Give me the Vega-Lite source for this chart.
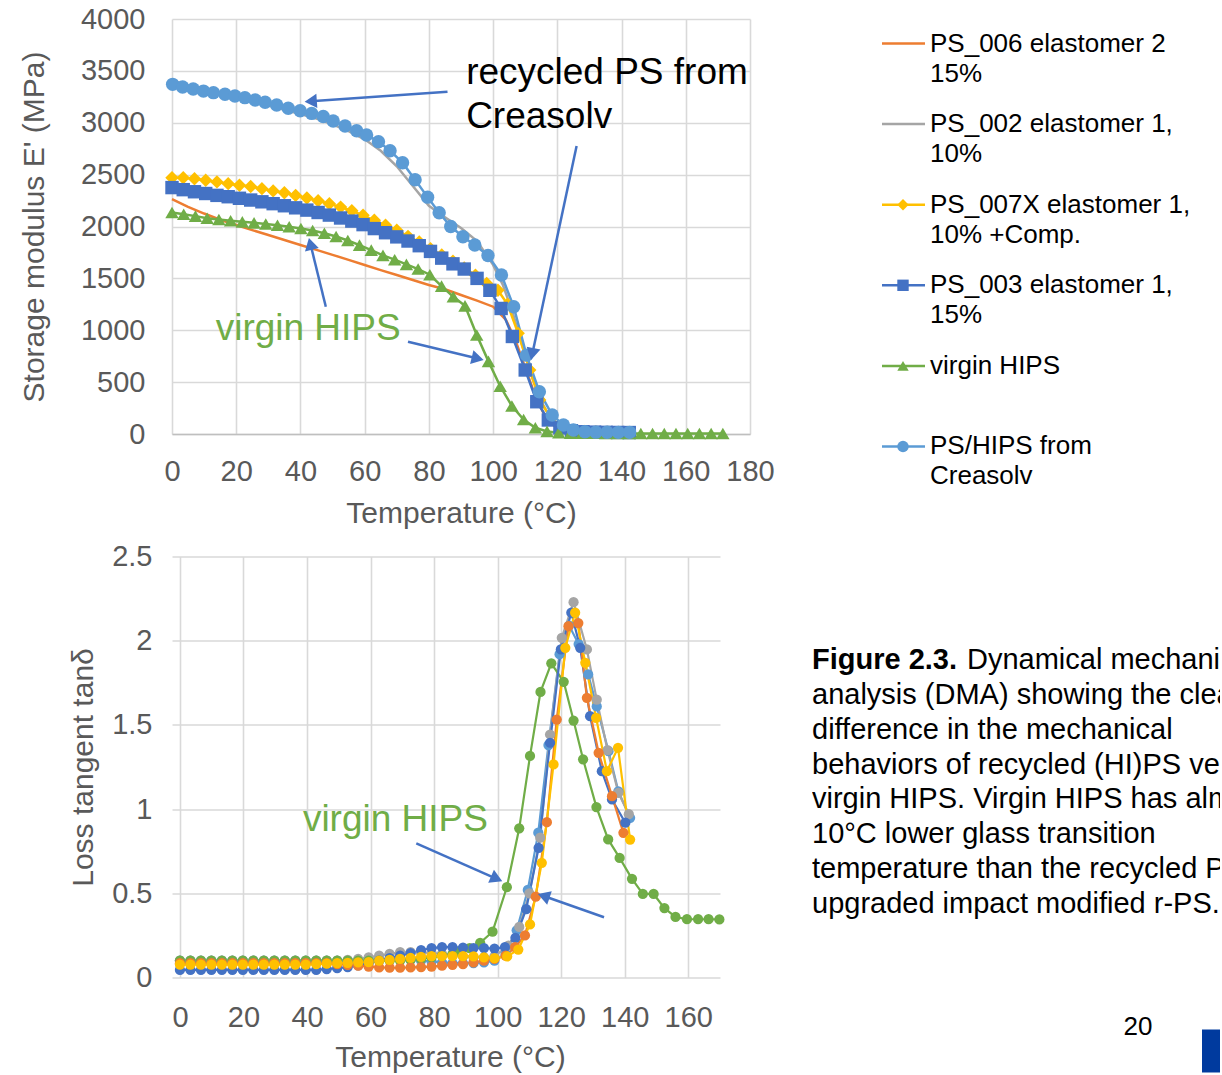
{
"$schema":"https://vega.github.io/schema/vega-lite/v6.json",
"background":"white",
"padding":{"left":19,"top":5,"right":0,"bottom":0},
"config":{
 "font":"Liberation Sans",
 "view":{"stroke":null},
 "axis":{"labelFont":"Liberation Sans","titleFont":"Liberation Sans","labelColor":"#595959","titleColor":"#595959","labelFontSize":29,"titleFontSize":30,"titleFontWeight":"normal","gridColor":"#D9D9D9","gridWidth":1.6,"ticks":false,"domain":false,"labelOverlap":false,"labelFlush":false}
},
"datasets":{
 "modulus":[
  {"series":"PS_006","T":0,"E":2265},{"series":"PS_006","T":5,"E":2190},{"series":"PS_006","T":10,"E":2125},{"series":"PS_006","T":15,"E":2065},{"series":"PS_006","T":20,"E":2014},{"series":"PS_006","T":25,"E":1965},{"series":"PS_006","T":30,"E":1918},{"series":"PS_006","T":35,"E":1870},{"series":"PS_006","T":40,"E":1822},{"series":"PS_006","T":45,"E":1775},{"series":"PS_006","T":50,"E":1727},{"series":"PS_006","T":55,"E":1678},{"series":"PS_006","T":60,"E":1629},{"series":"PS_006","T":65,"E":1580},{"series":"PS_006","T":70,"E":1532},{"series":"PS_006","T":75,"E":1484},{"series":"PS_006","T":80,"E":1436},{"series":"PS_006","T":85,"E":1395},{"series":"PS_006","T":90,"E":1340},{"series":"PS_006","T":95,"E":1285},{"series":"PS_006","T":100,"E":1227},{"series":"PS_006","T":104,"E":1100},{"series":"PS_006","T":107,"E":900},{"series":"PS_006","T":110,"E":640},{"series":"PS_006","T":113,"E":380},{"series":"PS_006","T":116,"E":180},{"series":"PS_006","T":119,"E":80},{"series":"PS_006","T":122,"E":40},{"series":"PS_006","T":126,"E":25},{"series":"PS_006","T":130,"E":20},{"series":"PS_006","T":135,"E":18},{"series":"PS_006","T":140,"E":16},
  {"series":"PS_002","T":0,"E":3410},{"series":"PS_002","T":5,"E":3360},{"series":"PS_002","T":10,"E":3312},{"series":"PS_002","T":15,"E":3272},{"series":"PS_002","T":20,"E":3235},{"series":"PS_002","T":25,"E":3200},{"series":"PS_002","T":30,"E":3165},{"series":"PS_002","T":35,"E":3125},{"series":"PS_002","T":40,"E":3085},{"series":"PS_002","T":45,"E":3040},{"series":"PS_002","T":50,"E":2985},{"series":"PS_002","T":55,"E":2920},{"series":"PS_002","T":60,"E":2840},{"series":"PS_002","T":65,"E":2730},{"series":"PS_002","T":70,"E":2580},{"series":"PS_002","T":75,"E":2390},{"series":"PS_002","T":80,"E":2200},{"series":"PS_002","T":85,"E":2090},{"series":"PS_002","T":90,"E":1985},{"series":"PS_002","T":95,"E":1860},{"series":"PS_002","T":100,"E":1630},{"series":"PS_002","T":103,"E":1440},{"series":"PS_002","T":106,"E":1180},{"series":"PS_002","T":109,"E":860},{"series":"PS_002","T":112,"E":560},{"series":"PS_002","T":115,"E":310},{"series":"PS_002","T":118,"E":150},{"series":"PS_002","T":121,"E":70},{"series":"PS_002","T":125,"E":35},{"series":"PS_002","T":130,"E":22},{"series":"PS_002","T":135,"E":18},{"series":"PS_002","T":140,"E":16},
  {"series":"PS_007X","T":0,"E":2470},{"series":"PS_007X","T":3.5,"E":2470},{"series":"PS_007X","T":7,"E":2460},{"series":"PS_007X","T":10.5,"E":2445},{"series":"PS_007X","T":14,"E":2430},{"series":"PS_007X","T":17.5,"E":2413},{"series":"PS_007X","T":21,"E":2398},{"series":"PS_007X","T":24.5,"E":2385},{"series":"PS_007X","T":28,"E":2365},{"series":"PS_007X","T":31.5,"E":2343},{"series":"PS_007X","T":35,"E":2325},{"series":"PS_007X","T":38.5,"E":2300},{"series":"PS_007X","T":42,"E":2275},{"series":"PS_007X","T":45.5,"E":2248},{"series":"PS_007X","T":49,"E":2220},{"series":"PS_007X","T":52.5,"E":2187},{"series":"PS_007X","T":56,"E":2152},{"series":"PS_007X","T":59.5,"E":2108},{"series":"PS_007X","T":63,"E":2060},{"series":"PS_007X","T":66.5,"E":2012},{"series":"PS_007X","T":70,"E":1965},{"series":"PS_007X","T":73.5,"E":1905},{"series":"PS_007X","T":77,"E":1850},{"series":"PS_007X","T":80.5,"E":1785},{"series":"PS_007X","T":84,"E":1725},{"series":"PS_007X","T":87.5,"E":1665},{"series":"PS_007X","T":91,"E":1600},{"series":"PS_007X","T":94.5,"E":1530},{"series":"PS_007X","T":98,"E":1450},{"series":"PS_007X","T":101.5,"E":1385},{"series":"PS_007X","T":104.5,"E":1250},{"series":"PS_007X","T":107.8,"E":970},{"series":"PS_007X","T":111.4,"E":617},{"series":"PS_007X","T":114.5,"E":328},{"series":"PS_007X","T":118,"E":150},{"series":"PS_007X","T":121.5,"E":70},{"series":"PS_007X","T":125,"E":35},{"series":"PS_007X","T":128.5,"E":24},{"series":"PS_007X","T":132,"E":19},{"series":"PS_007X","T":135.5,"E":17},{"series":"PS_007X","T":139,"E":16},{"series":"PS_007X","T":142,"E":15},
  {"series":"PS_003","T":0,"E":2375},{"series":"PS_003","T":3.5,"E":2355},{"series":"PS_003","T":7,"E":2335},{"series":"PS_003","T":10.5,"E":2318},{"series":"PS_003","T":14,"E":2300},{"series":"PS_003","T":17.5,"E":2287},{"series":"PS_003","T":21,"E":2272},{"series":"PS_003","T":24.5,"E":2255},{"series":"PS_003","T":28,"E":2238},{"series":"PS_003","T":31.5,"E":2220},{"series":"PS_003","T":35,"E":2200},{"series":"PS_003","T":38.5,"E":2180},{"series":"PS_003","T":42,"E":2158},{"series":"PS_003","T":45.5,"E":2135},{"series":"PS_003","T":49,"E":2110},{"series":"PS_003","T":52.5,"E":2082},{"series":"PS_003","T":56,"E":2052},{"series":"PS_003","T":59.5,"E":2018},{"series":"PS_003","T":63,"E":1980},{"series":"PS_003","T":66.5,"E":1940},{"series":"PS_003","T":70,"E":1900},{"series":"PS_003","T":73.5,"E":1860},{"series":"PS_003","T":77,"E":1815},{"series":"PS_003","T":80.5,"E":1760},{"series":"PS_003","T":84,"E":1695},{"series":"PS_003","T":87.5,"E":1640},{"series":"PS_003","T":91,"E":1590},{"series":"PS_003","T":95,"E":1500},{"series":"PS_003","T":99,"E":1385},{"series":"PS_003","T":102.5,"E":1210},{"series":"PS_003","T":106,"E":940},{"series":"PS_003","T":110,"E":617},{"series":"PS_003","T":113.6,"E":311},{"series":"PS_003","T":117.2,"E":135},{"series":"PS_003","T":120.8,"E":60},{"series":"PS_003","T":124.4,"E":32},{"series":"PS_003","T":128,"E":22},{"series":"PS_003","T":131.6,"E":18},{"series":"PS_003","T":135.2,"E":16},{"series":"PS_003","T":138.8,"E":15},{"series":"PS_003","T":142.4,"E":14},
  {"series":"virgin HIPS","T":0,"E":2135},{"series":"virgin HIPS","T":3.65,"E":2118},{"series":"virgin HIPS","T":7.3,"E":2100},{"series":"virgin HIPS","T":10.95,"E":2080},{"series":"virgin HIPS","T":14.6,"E":2067},{"series":"virgin HIPS","T":18.25,"E":2056},{"series":"virgin HIPS","T":21.9,"E":2045},{"series":"virgin HIPS","T":25.55,"E":2035},{"series":"virgin HIPS","T":29.2,"E":2024},{"series":"virgin HIPS","T":32.85,"E":2012},{"series":"virgin HIPS","T":36.5,"E":1997},{"series":"virgin HIPS","T":40.15,"E":1981},{"series":"virgin HIPS","T":43.8,"E":1962},{"series":"virgin HIPS","T":47.45,"E":1935},{"series":"virgin HIPS","T":51.1,"E":1903},{"series":"virgin HIPS","T":54.75,"E":1865},{"series":"virgin HIPS","T":58.4,"E":1820},{"series":"virgin HIPS","T":62.05,"E":1772},{"series":"virgin HIPS","T":65.7,"E":1722},{"series":"virgin HIPS","T":69.35,"E":1680},{"series":"virgin HIPS","T":73,"E":1635},{"series":"virgin HIPS","T":76.65,"E":1590},{"series":"virgin HIPS","T":80.3,"E":1535},{"series":"virgin HIPS","T":83.95,"E":1425},{"series":"virgin HIPS","T":87.6,"E":1323},{"series":"virgin HIPS","T":91.25,"E":1235},{"series":"virgin HIPS","T":94.9,"E":954},{"series":"virgin HIPS","T":98.55,"E":700},{"series":"virgin HIPS","T":102.2,"E":460},{"series":"virgin HIPS","T":105.85,"E":270},{"series":"virgin HIPS","T":109.5,"E":140},{"series":"virgin HIPS","T":113.15,"E":60},{"series":"virgin HIPS","T":116.8,"E":25},{"series":"virgin HIPS","T":120.45,"E":12},{"series":"virgin HIPS","T":124.1,"E":9},{"series":"virgin HIPS","T":127.75,"E":8},{"series":"virgin HIPS","T":131.4,"E":7},{"series":"virgin HIPS","T":135.05,"E":6},{"series":"virgin HIPS","T":138.7,"E":6},{"series":"virgin HIPS","T":142.35,"E":5},{"series":"virgin HIPS","T":146,"E":5},{"series":"virgin HIPS","T":149.65,"E":5},{"series":"virgin HIPS","T":153.3,"E":5},{"series":"virgin HIPS","T":156.95,"E":5},{"series":"virgin HIPS","T":160.6,"E":5},{"series":"virgin HIPS","T":164.25,"E":5},{"series":"virgin HIPS","T":167.9,"E":5},{"series":"virgin HIPS","T":171.55,"E":5},
  {"series":"Creasolv","T":0.2,"E":3370},{"series":"Creasolv","T":3.3,"E":3345},{"series":"Creasolv","T":6.6,"E":3325},{"series":"Creasolv","T":9.8,"E":3305},{"series":"Creasolv","T":12.9,"E":3290},{"series":"Creasolv","T":16.5,"E":3274},{"series":"Creasolv","T":19.6,"E":3258},{"series":"Creasolv","T":22.7,"E":3242},{"series":"Creasolv","T":25.9,"E":3220},{"series":"Creasolv","T":29,"E":3197},{"series":"Creasolv","T":32.6,"E":3171},{"series":"Creasolv","T":36.2,"E":3139},{"series":"Creasolv","T":39.9,"E":3116},{"series":"Creasolv","T":43.5,"E":3090},{"series":"Creasolv","T":47.1,"E":3060},{"series":"Creasolv","T":50.2,"E":3017},{"series":"Creasolv","T":53.9,"E":2969},{"series":"Creasolv","T":57.5,"E":2923},{"series":"Creasolv","T":60.6,"E":2882},{"series":"Creasolv","T":64.3,"E":2818},{"series":"Creasolv","T":67.9,"E":2730},{"series":"Creasolv","T":71.8,"E":2615},{"series":"Creasolv","T":75.7,"E":2450},{"series":"Creasolv","T":79.6,"E":2283},{"series":"Creasolv","T":83.2,"E":2133},{"series":"Creasolv","T":86.8,"E":2000},{"series":"Creasolv","T":90.6,"E":1902},{"series":"Creasolv","T":94.3,"E":1822},{"series":"Creasolv","T":98.4,"E":1720},{"series":"Creasolv","T":102.6,"E":1533},{"series":"Creasolv","T":106.4,"E":1227},{"series":"Creasolv","T":110.4,"E":760},{"series":"Creasolv","T":114.4,"E":408},{"series":"Creasolv","T":118.4,"E":183},{"series":"Creasolv","T":121.9,"E":87},{"series":"Creasolv","T":125,"E":39},{"series":"Creasolv","T":128.6,"E":22},{"series":"Creasolv","T":132,"E":18},{"series":"Creasolv","T":135.5,"E":17},{"series":"Creasolv","T":139,"E":16},{"series":"Creasolv","T":142.5,"E":16}
 ],
 "tan":[
  {"series":"Creasolv","T":0,"tan":0.1},{"series":"Creasolv","T":3.3,"tan":0.1},{"series":"Creasolv","T":6.6,"tan":0.1},{"series":"Creasolv","T":9.9,"tan":0.1},{"series":"Creasolv","T":13.2,"tan":0.1},{"series":"Creasolv","T":16.5,"tan":0.1},{"series":"Creasolv","T":19.8,"tan":0.1},{"series":"Creasolv","T":23.1,"tan":0.1},{"series":"Creasolv","T":26.4,"tan":0.1},{"series":"Creasolv","T":29.7,"tan":0.1},{"series":"Creasolv","T":33,"tan":0.1},{"series":"Creasolv","T":36.3,"tan":0.1},{"series":"Creasolv","T":39.6,"tan":0.1},{"series":"Creasolv","T":42.9,"tan":0.1},{"series":"Creasolv","T":46.2,"tan":0.1},{"series":"Creasolv","T":49.5,"tan":0.1},{"series":"Creasolv","T":52.8,"tan":0.1},{"series":"Creasolv","T":56.1,"tan":0.1},{"series":"Creasolv","T":59.4,"tan":0.105},{"series":"Creasolv","T":62.7,"tan":0.11},{"series":"Creasolv","T":66,"tan":0.11},{"series":"Creasolv","T":69.3,"tan":0.11},{"series":"Creasolv","T":72.6,"tan":0.105},{"series":"Creasolv","T":75.9,"tan":0.1},{"series":"Creasolv","T":79.2,"tan":0.095},{"series":"Creasolv","T":82.5,"tan":0.09},{"series":"Creasolv","T":85.8,"tan":0.085},{"series":"Creasolv","T":89.1,"tan":0.085},{"series":"Creasolv","T":92.4,"tan":0.085},{"series":"Creasolv","T":95.7,"tan":0.09},{"series":"Creasolv","T":99,"tan":0.1},{"series":"Creasolv","T":102.5,"tan":0.14},{"series":"Creasolv","T":106,"tan":0.28},{"series":"Creasolv","T":109.5,"tan":0.52},{"series":"Creasolv","T":112.8,"tan":0.86},{"series":"Creasolv","T":116,"tan":1.38},{"series":"Creasolv","T":119.5,"tan":1.92},{"series":"Creasolv","T":122.5,"tan":2.09},{"series":"Creasolv","T":125.5,"tan":1.98},{"series":"Creasolv","T":128.5,"tan":1.8},{"series":"Creasolv","T":131.2,"tan":1.61},{"series":"Creasolv","T":134.9,"tan":1.344},{"series":"Creasolv","T":138,"tan":1.106},{"series":"Creasolv","T":141.7,"tan":0.948},
  {"series":"PS_002","T":0,"tan":0.1},{"series":"PS_002","T":3.3,"tan":0.1},{"series":"PS_002","T":6.6,"tan":0.1},{"series":"PS_002","T":9.9,"tan":0.1},{"series":"PS_002","T":13.2,"tan":0.1},{"series":"PS_002","T":16.5,"tan":0.1},{"series":"PS_002","T":19.8,"tan":0.1},{"series":"PS_002","T":23.1,"tan":0.1},{"series":"PS_002","T":26.4,"tan":0.1},{"series":"PS_002","T":29.7,"tan":0.1},{"series":"PS_002","T":33,"tan":0.1},{"series":"PS_002","T":36.3,"tan":0.1},{"series":"PS_002","T":39.6,"tan":0.1},{"series":"PS_002","T":42.9,"tan":0.1},{"series":"PS_002","T":46.2,"tan":0.1},{"series":"PS_002","T":49.5,"tan":0.1},{"series":"PS_002","T":52.8,"tan":0.105},{"series":"PS_002","T":56.1,"tan":0.11},{"series":"PS_002","T":59.4,"tan":0.12},{"series":"PS_002","T":62.7,"tan":0.13},{"series":"PS_002","T":66,"tan":0.14},{"series":"PS_002","T":69.3,"tan":0.15},{"series":"PS_002","T":72.6,"tan":0.15},{"series":"PS_002","T":75.9,"tan":0.15},{"series":"PS_002","T":79.2,"tan":0.145},{"series":"PS_002","T":82.5,"tan":0.14},{"series":"PS_002","T":85.8,"tan":0.13},{"series":"PS_002","T":89.1,"tan":0.125},{"series":"PS_002","T":92.4,"tan":0.12},{"series":"PS_002","T":95.7,"tan":0.12},{"series":"PS_002","T":99,"tan":0.125},{"series":"PS_002","T":103.4,"tan":0.19},{"series":"PS_002","T":106.8,"tan":0.3},{"series":"PS_002","T":110,"tan":0.5},{"series":"PS_002","T":113.4,"tan":0.83},{"series":"PS_002","T":116.5,"tan":1.443},{"series":"PS_002","T":120.2,"tan":2.017},{"series":"PS_002","T":123.9,"tan":2.229},{"series":"PS_002","T":128.1,"tan":1.948},{"series":"PS_002","T":131.2,"tan":1.65},{"series":"PS_002","T":134.6,"tan":1.35},{"series":"PS_002","T":138,"tan":1.097},{"series":"PS_002","T":141.3,"tan":0.97},
  {"series":"virgin HIPS","T":0,"tan":0.1},{"series":"virgin HIPS","T":3.3,"tan":0.1},{"series":"virgin HIPS","T":6.6,"tan":0.1},{"series":"virgin HIPS","T":9.9,"tan":0.1},{"series":"virgin HIPS","T":13.2,"tan":0.1},{"series":"virgin HIPS","T":16.5,"tan":0.1},{"series":"virgin HIPS","T":19.8,"tan":0.1},{"series":"virgin HIPS","T":23.1,"tan":0.1},{"series":"virgin HIPS","T":26.4,"tan":0.1},{"series":"virgin HIPS","T":29.7,"tan":0.1},{"series":"virgin HIPS","T":33,"tan":0.1},{"series":"virgin HIPS","T":36.3,"tan":0.1},{"series":"virgin HIPS","T":39.6,"tan":0.1},{"series":"virgin HIPS","T":42.9,"tan":0.1},{"series":"virgin HIPS","T":46.2,"tan":0.1},{"series":"virgin HIPS","T":49.5,"tan":0.1},{"series":"virgin HIPS","T":52.8,"tan":0.1},{"series":"virgin HIPS","T":56.1,"tan":0.1},{"series":"virgin HIPS","T":59.4,"tan":0.1},{"series":"virgin HIPS","T":62.7,"tan":0.1},{"series":"virgin HIPS","T":66,"tan":0.1},{"series":"virgin HIPS","T":69.3,"tan":0.1},{"series":"virgin HIPS","T":72.6,"tan":0.105},{"series":"virgin HIPS","T":75.9,"tan":0.11},{"series":"virgin HIPS","T":79.2,"tan":0.12},{"series":"virgin HIPS","T":82.5,"tan":0.13},{"series":"virgin HIPS","T":85.8,"tan":0.14},{"series":"virgin HIPS","T":88.2,"tan":0.155},{"series":"virgin HIPS","T":91.2,"tan":0.175},{"series":"virgin HIPS","T":94.5,"tan":0.206},{"series":"virgin HIPS","T":98.4,"tan":0.272},{"series":"virgin HIPS","T":102.9,"tan":0.536},{"series":"virgin HIPS","T":106.8,"tan":0.886},{"series":"virgin HIPS","T":110.2,"tan":1.316},{"series":"virgin HIPS","T":113.5,"tan":1.696},{"series":"virgin HIPS","T":116.9,"tan":1.866},{"series":"virgin HIPS","T":120.8,"tan":1.756},{"series":"virgin HIPS","T":123.9,"tan":1.526},{"series":"virgin HIPS","T":126.9,"tan":1.296},{"series":"virgin HIPS","T":131.1,"tan":1.012},{"series":"virgin HIPS","T":134.8,"tan":0.82},{"series":"virgin HIPS","T":138.4,"tan":0.71},{"series":"virgin HIPS","T":142.3,"tan":0.586},{"series":"virgin HIPS","T":145.7,"tan":0.496},{"series":"virgin HIPS","T":149.1,"tan":0.496},{"series":"virgin HIPS","T":152.5,"tan":0.412},{"series":"virgin HIPS","T":156,"tan":0.36},{"series":"virgin HIPS","T":159.6,"tan":0.346},{"series":"virgin HIPS","T":163.1,"tan":0.346},{"series":"virgin HIPS","T":166.4,"tan":0.346},{"series":"virgin HIPS","T":169.8,"tan":0.345},
  {"series":"PS_003","T":0,"tan":0.045},{"series":"PS_003","T":3.3,"tan":0.045},{"series":"PS_003","T":6.6,"tan":0.045},{"series":"PS_003","T":9.9,"tan":0.045},{"series":"PS_003","T":13.2,"tan":0.045},{"series":"PS_003","T":16.5,"tan":0.045},{"series":"PS_003","T":19.8,"tan":0.045},{"series":"PS_003","T":23.1,"tan":0.045},{"series":"PS_003","T":26.4,"tan":0.045},{"series":"PS_003","T":29.7,"tan":0.045},{"series":"PS_003","T":33,"tan":0.045},{"series":"PS_003","T":36.3,"tan":0.045},{"series":"PS_003","T":39.6,"tan":0.045},{"series":"PS_003","T":42.9,"tan":0.045},{"series":"PS_003","T":46.2,"tan":0.05},{"series":"PS_003","T":49.5,"tan":0.055},{"series":"PS_003","T":52.8,"tan":0.062},{"series":"PS_003","T":56.1,"tan":0.072},{"series":"PS_003","T":59.4,"tan":0.085},{"series":"PS_003","T":62.7,"tan":0.1},{"series":"PS_003","T":66,"tan":0.115},{"series":"PS_003","T":69.3,"tan":0.13},{"series":"PS_003","T":72.6,"tan":0.145},{"series":"PS_003","T":75.9,"tan":0.162},{"series":"PS_003","T":79.2,"tan":0.175},{"series":"PS_003","T":82.5,"tan":0.18},{"series":"PS_003","T":85.8,"tan":0.18},{"series":"PS_003","T":89.1,"tan":0.178},{"series":"PS_003","T":92.4,"tan":0.175},{"series":"PS_003","T":95.7,"tan":0.175},{"series":"PS_003","T":99,"tan":0.172},{"series":"PS_003","T":102.3,"tan":0.18},{"series":"PS_003","T":105.6,"tan":0.236},{"series":"PS_003","T":109,"tan":0.406},{"series":"PS_003","T":112.9,"tan":0.77},{"series":"PS_003","T":116.5,"tan":1.394},{"series":"PS_003","T":119.9,"tan":1.948},{"series":"PS_003","T":123.2,"tan":2.166},{"series":"PS_003","T":126,"tan":1.958},{"series":"PS_003","T":129.1,"tan":1.552},{"series":"PS_003","T":132.8,"tan":1.225},{"series":"PS_003","T":136,"tan":1.057},{"series":"PS_003","T":140.2,"tan":0.919},
  {"series":"PS_006","T":0,"tan":0.085},{"series":"PS_006","T":3.3,"tan":0.085},{"series":"PS_006","T":6.6,"tan":0.085},{"series":"PS_006","T":9.9,"tan":0.085},{"series":"PS_006","T":13.2,"tan":0.085},{"series":"PS_006","T":16.5,"tan":0.085},{"series":"PS_006","T":19.8,"tan":0.085},{"series":"PS_006","T":23.1,"tan":0.085},{"series":"PS_006","T":26.4,"tan":0.085},{"series":"PS_006","T":29.7,"tan":0.085},{"series":"PS_006","T":33,"tan":0.085},{"series":"PS_006","T":36.3,"tan":0.085},{"series":"PS_006","T":39.6,"tan":0.085},{"series":"PS_006","T":42.9,"tan":0.085},{"series":"PS_006","T":46.2,"tan":0.085},{"series":"PS_006","T":49.5,"tan":0.08},{"series":"PS_006","T":52.8,"tan":0.075},{"series":"PS_006","T":56.1,"tan":0.07},{"series":"PS_006","T":59.4,"tan":0.065},{"series":"PS_006","T":62.7,"tan":0.06},{"series":"PS_006","T":66,"tan":0.058},{"series":"PS_006","T":69.3,"tan":0.058},{"series":"PS_006","T":72.6,"tan":0.06},{"series":"PS_006","T":75.9,"tan":0.062},{"series":"PS_006","T":79.2,"tan":0.065},{"series":"PS_006","T":82.5,"tan":0.07},{"series":"PS_006","T":85.8,"tan":0.075},{"series":"PS_006","T":89.1,"tan":0.08},{"series":"PS_006","T":92.4,"tan":0.09},{"series":"PS_006","T":95.7,"tan":0.1},{"series":"PS_006","T":99,"tan":0.11},{"series":"PS_006","T":102.5,"tan":0.13},{"series":"PS_006","T":105.5,"tan":0.18},{"series":"PS_006","T":108.6,"tan":0.25},{"series":"PS_006","T":112,"tan":0.48},{"series":"PS_006","T":115.5,"tan":0.922},{"series":"PS_006","T":118.6,"tan":1.532},{"series":"PS_006","T":122.3,"tan":2.086},{"series":"PS_006","T":125.4,"tan":2.105},{"series":"PS_006","T":128.1,"tan":1.661},{"series":"PS_006","T":131.8,"tan":1.334},{"series":"PS_006","T":136,"tan":1.077},{"series":"PS_006","T":139.6,"tan":0.859},
  {"series":"PS_007X","T":0,"tan":0.077},{"series":"PS_007X","T":3.3,"tan":0.077},{"series":"PS_007X","T":6.6,"tan":0.077},{"series":"PS_007X","T":9.9,"tan":0.077},{"series":"PS_007X","T":13.2,"tan":0.077},{"series":"PS_007X","T":16.5,"tan":0.077},{"series":"PS_007X","T":19.8,"tan":0.077},{"series":"PS_007X","T":23.1,"tan":0.077},{"series":"PS_007X","T":26.4,"tan":0.077},{"series":"PS_007X","T":29.7,"tan":0.077},{"series":"PS_007X","T":33,"tan":0.077},{"series":"PS_007X","T":36.3,"tan":0.077},{"series":"PS_007X","T":39.6,"tan":0.077},{"series":"PS_007X","T":42.9,"tan":0.08},{"series":"PS_007X","T":46.2,"tan":0.082},{"series":"PS_007X","T":49.5,"tan":0.085},{"series":"PS_007X","T":52.8,"tan":0.087},{"series":"PS_007X","T":56.1,"tan":0.09},{"series":"PS_007X","T":59.4,"tan":0.092},{"series":"PS_007X","T":62.7,"tan":0.1},{"series":"PS_007X","T":66,"tan":0.105},{"series":"PS_007X","T":69.3,"tan":0.11},{"series":"PS_007X","T":72.6,"tan":0.117},{"series":"PS_007X","T":75.9,"tan":0.122},{"series":"PS_007X","T":79.2,"tan":0.127},{"series":"PS_007X","T":82.5,"tan":0.127},{"series":"PS_007X","T":85.8,"tan":0.127},{"series":"PS_007X","T":89.1,"tan":0.127},{"series":"PS_007X","T":92.4,"tan":0.125},{"series":"PS_007X","T":95.7,"tan":0.12},{"series":"PS_007X","T":99,"tan":0.115},{"series":"PS_007X","T":103,"tan":0.125},{"series":"PS_007X","T":106.5,"tan":0.166},{"series":"PS_007X","T":110.2,"tan":0.315},{"series":"PS_007X","T":113.9,"tan":0.681},{"series":"PS_007X","T":117.6,"tan":1.265},{"series":"PS_007X","T":121.3,"tan":1.958},{"series":"PS_007X","T":124.4,"tan":2.166},{"series":"PS_007X","T":127.6,"tan":1.869},{"series":"PS_007X","T":131,"tan":1.542},{"series":"PS_007X","T":134.4,"tan":1.225},{"series":"PS_007X","T":137.9,"tan":1.364},{"series":"PS_007X","T":141.7,"tan":0.819}
 ],
 "notesTop":[
  {"note":"recycled","T":91.6,"E":3475,"label":"recycled PS from"},
  {"note":"recycled","T":91.6,"E":3055,"label":"Creasolv"},
  {"note":"virgin","T":13.6,"E":1015,"label":"virgin HIPS"}
 ],
 "arrowsTop":[
  {"id":1,"T":43.2,"E":3207,"T2":85.8,"E2":3299},
  {"id":2,"T":112.2,"E":770,"T2":126.0,"E2":2776},
  {"id":3,"T":43.1,"E":1833,"T2":47.9,"E2":1227},
  {"id":4,"T":95.2,"E":727,"T2":73.5,"E2":890}
 ],
 "notesTan":[{"T":38.7,"tan":0.936,"label":"virgin HIPS"}],
 "arrowsTan":[
  {"id":5,"T":99.7,"tan":0.586,"T2":74.4,"tan2":0.796},
  {"id":6,"T":114.5,"tan":0.484,"T2":133.5,"tan2":0.358}
 ],
 "legend":[
  {"series":"PS_006","line1":"PS_006 elastomer 2","line2":"15%"},
  {"series":"PS_002","line1":"PS_002 elastomer 1,","line2":"10%"},
  {"series":"PS_007X","line1":"PS_007X  elastomer 1,","line2":"10% +Comp."},
  {"series":"PS_003","line1":"PS_003 elastomer 1,","line2":"15%"},
  {"series":"virgin HIPS","line1":"virgin HIPS","line2":""},
  {"series":"Creasolv","line1":"PS/HIPS from","line2":"Creasolv"}
 ],
 "caption":[
  {"line":1,"part":"head","text":"Figure 2.3."},
  {"line":1,"part":"first","text":"Dynamical mechanical"},
  {"line":2,"part":"body","text":"analysis  (DMA) showing the clear"},
  {"line":3,"part":"body","text":"difference in the mechanical"},
  {"line":4,"part":"body","text":"behaviors of recycled (HI)PS versus"},
  {"line":5,"part":"body","text":"virgin HIPS. Virgin HIPS has almost"},
  {"line":6,"part":"body","text":"10°C lower glass transition"},
  {"line":7,"part":"body","text":"temperature than the recycled PS and"},
  {"line":8,"part":"body","text":"upgraded impact modified r-PS."}
 ]
},
"columns":2,
"align":"each",
"bounds":"flush",
"spacing":{"row":85.5,"column":62},
"concat":[
 {
  "width":578,"height":415,
  "encoding":{
   "x":{"field":"T","type":"quantitative","scale":{"domain":[0,180],"nice":false,"zero":false},"axis":{"values":[0,20,40,60,80,100,120,140,160,180],"format":"d","title":"Temperature (°C)","labelPadding":23,"titlePadding":12,"domain":true,"domainColor":"#BFBFBF","domainWidth":1.6}},
   "y":{"field":"E","type":"quantitative","scale":{"domain":[0,4000],"nice":false},"axis":{"values":[0,500,1000,1500,2000,2500,3000,3500,4000],"format":"d","title":"Storage modulus E' (MPa)","labelPadding":27,"titlePadding":31}}
  },
  "layer":[
   {"data":{"name":"modulus"},"mark":{"type":"line","strokeWidth":2.5},
    "encoding":{"color":{"field":"series","type":"nominal","scale":{"domain":["PS_006","PS_002","PS_007X","PS_003","virgin HIPS","Creasolv"],"range":["#ED7D31","#A5A5A5","#FFC000","#4472C4","#70AD47","#5B9BD5"]},"legend":null}}},
   {"data":{"name":"modulus"},"transform":[{"filter":{"field":"series","oneOf":["PS_007X","PS_003","virgin HIPS","Creasolv"]}}],
    "mark":{"type":"point","filled":true,"opacity":1,"size":180},
    "encoding":{"color":{"field":"series","type":"nominal","legend":null},
     "shape":{"field":"series","type":"nominal","scale":{"domain":["PS_006","PS_002","PS_007X","PS_003","virgin HIPS","Creasolv"],"range":["circle","circle","diamond","square","triangle-up","circle"]},"legend":null}}},
   {"data":{"name":"notesTop"},"transform":[{"filter":"datum.note=='recycled'"}],"mark":{"type":"text","align":"left","baseline":"middle","fontSize":37,"color":"#000000"},"encoding":{"text":{"field":"label"}}},
   {"data":{"name":"notesTop"},"transform":[{"filter":"datum.note=='virgin'"}],"mark":{"type":"text","align":"left","baseline":"middle","fontSize":37,"color":"#70AD47"},"encoding":{"text":{"field":"label"}}},
   {"data":{"name":"arrowsTop"},"mark":{"type":"rule","strokeWidth":2.5,"color":"#4472C4"},"encoding":{"x2":{"field":"T2"},"y2":{"field":"E2"}}},
   {"data":{"name":"arrowsTop"},"transform":[{"filter":"datum.id==1"}],"mark":{"type":"point","shape":"triangle-up","angle":266,"filled":true,"opacity":1,"size":200,"color":"#4472C4"}},
   {"data":{"name":"arrowsTop"},"transform":[{"filter":"datum.id==2"}],"mark":{"type":"point","shape":"triangle-up","angle":192,"filled":true,"opacity":1,"size":200,"color":"#4472C4"}},
   {"data":{"name":"arrowsTop"},"transform":[{"filter":"datum.id==3"}],"mark":{"type":"point","shape":"triangle-up","angle":346,"filled":true,"opacity":1,"size":200,"color":"#4472C4"}},
   {"data":{"name":"arrowsTop"},"transform":[{"filter":"datum.id==4"}],"mark":{"type":"point","shape":"triangle-up","angle":104,"filled":true,"opacity":1,"size":200,"color":"#4472C4"}}
  ]
 },
 {
  "width":408,"height":452,
  "data":{"name":"legend"},
  "encoding":{"y":{"field":"series","type":"nominal","sort":["PS_006","PS_002","PS_007X","PS_003","virgin HIPS","Creasolv"],"scale":{"type":"point","padding":0.304},"axis":null}},
  "layer":[
   {"mark":{"type":"rule","strokeWidth":2.5},
    "encoding":{"x":{"datum":70,"type":"quantitative","scale":{"domain":[0,408],"nice":false,"zero":false},"axis":null},"x2":{"datum":113},
     "color":{"field":"series","type":"nominal","scale":{"domain":["PS_006","PS_002","PS_007X","PS_003","virgin HIPS","Creasolv"],"range":["#ED7D31","#A5A5A5","#FFC000","#4472C4","#70AD47","#5B9BD5"]},"legend":null}}},
   {"transform":[{"filter":{"field":"series","oneOf":["PS_007X","PS_003","virgin HIPS","Creasolv"]}}],
    "mark":{"type":"point","filled":true,"opacity":1,"size":130},
    "encoding":{"x":{"datum":91,"type":"quantitative"},"color":{"field":"series","type":"nominal","legend":null},
     "shape":{"field":"series","type":"nominal","scale":{"domain":["PS_006","PS_002","PS_007X","PS_003","virgin HIPS","Creasolv"],"range":["circle","circle","diamond","square","triangle-up","circle"]},"legend":null}}},
   {"mark":{"type":"text","align":"left","baseline":"middle","fontSize":26,"color":"#000000"},"encoding":{"x":{"datum":118,"type":"quantitative"},"text":{"field":"line1"}}},
   {"mark":{"type":"text","align":"left","baseline":"middle","fontSize":26,"color":"#000000","dy":30},"encoding":{"x":{"datum":118,"type":"quantitative"},"text":{"field":"line2"}}}
  ]
 },
 {
  "width":548,"height":421,
  "encoding":{
   "x":{"field":"T","type":"quantitative","scale":{"domain":[-2.5,170],"nice":false,"zero":false},"axis":{"values":[0,20,40,60,80,100,120,140,160],"format":"d","title":"Temperature (°C)","labelPadding":26,"titlePadding":10,"titleX":278}},
   "y":{"field":"tan","type":"quantitative","scale":{"domain":[0,2.5],"nice":false},"axis":{"values":[0,0.5,1,1.5,2,2.5],"format":"~g","title":"Loss tangent tanδ","labelPadding":20,"titlePadding":13}}
  },
  "layer":[
   {"data":{"name":"tan"},"mark":{"type":"line","strokeWidth":2.2},
    "encoding":{"color":{"field":"series","type":"nominal","scale":{"domain":["PS_006","PS_002","PS_007X","PS_003","virgin HIPS","Creasolv"],"range":["#ED7D31","#A5A5A5","#FFC000","#4472C4","#70AD47","#5B9BD5"]},"legend":null}}},
   {"data":{"name":"tan"},"mark":{"type":"point","shape":"circle","filled":true,"opacity":1,"size":105},
    "encoding":{"color":{"field":"series","type":"nominal","legend":null}}},
   {"data":{"name":"notesTan"},"mark":{"type":"text","align":"left","baseline":"middle","fontSize":37,"color":"#70AD47"},"encoding":{"text":{"field":"label"}}},
   {"data":{"name":"arrowsTan"},"mark":{"type":"rule","strokeWidth":2.5,"color":"#4472C4"},"encoding":{"x2":{"field":"T2"},"y2":{"field":"tan2"}}},
   {"data":{"name":"arrowsTan"},"transform":[{"filter":"datum.id==5"}],"mark":{"type":"point","shape":"triangle-up","angle":114,"filled":true,"opacity":1,"size":200,"color":"#4472C4"}},
   {"data":{"name":"arrowsTan"},"transform":[{"filter":"datum.id==6"}],"mark":{"type":"point","shape":"triangle-up","angle":289,"filled":true,"opacity":1,"size":200,"color":"#4472C4"}}
  ]
 },
 {
  "width":408,"height":451,
  "data":{"name":"caption"},
  "encoding":{"y":{"field":"line","type":"quantitative","scale":{"domain":[-1.943,10.943],"reverse":true,"nice":false,"zero":false},"axis":null}},
  "layer":[
   {"transform":[{"filter":"datum.part=='head'"}],"mark":{"type":"text","align":"left","baseline":"middle","fontSize":29,"fontWeight":"bold","color":"#000000","clip":true},
    "encoding":{"x":{"datum":0,"type":"quantitative","scale":{"domain":[0,408],"nice":false,"zero":false},"axis":null},"text":{"field":"text"}}},
   {"transform":[{"filter":"datum.part=='first'"}],"mark":{"type":"text","align":"left","baseline":"middle","fontSize":29,"color":"#000000","clip":true},
    "encoding":{"x":{"datum":155,"type":"quantitative"},"text":{"field":"text"}}},
   {"transform":[{"filter":"datum.part=='body'"}],"mark":{"type":"text","align":"left","baseline":"middle","fontSize":29,"color":"#000000","clip":true},
    "encoding":{"x":{"datum":0,"type":"quantitative"},"text":{"field":"text"}}},
   {"data":{"values":[{"page":"20"}]},"mark":{"type":"text","align":"center","baseline":"middle","fontSize":26,"color":"#000000"},
    "encoding":{"x":{"datum":326,"type":"quantitative"},"y":{"value":470},"text":{"field":"page"}}},
   {"data":{"values":[{"bar":"slide"}]},"mark":{"type":"rect","color":"#003A9E"},
    "encoding":{"x":{"datum":390,"type":"quantitative"},"x2":{"datum":408},"y":{"value":473},"y2":{"value":516}}}
  ]
 }
]
}
